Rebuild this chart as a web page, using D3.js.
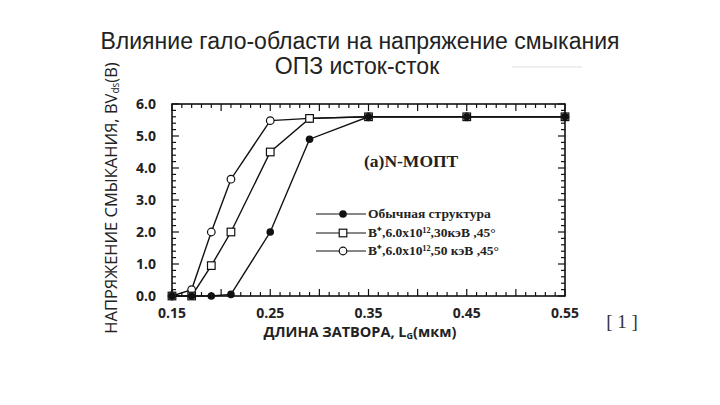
<!DOCTYPE html>
<html><head><meta charset="utf-8">
<script src="https://cdnjs.cloudflare.com/ajax/libs/d3/7.8.5/d3.min.js"></script>
<style>body{margin:0;background:#fff}svg{display:block}</style>
</head><body>
<script>
const titleLines = ["Влияние гало-области на напряжение смыкания", "ОПЗ исток-сток"];
const xValues = [0.15, 0.17, 0.19, 0.21, 0.25, 0.29, 0.35, 0.45, 0.55];
const seriesNames = ["Обычная структура", "B⁺,6.0x10¹²,30кэВ ,45°", "B⁺,6.0x10¹²,50 кэВ ,45°"];
const conventional = [0, 0, 0, 0.05, 2.0, 4.9, 5.6, 5.6, 5.6];
const halo30 = [0, 0, 0.95, 2.0, 4.5, 5.55, 5.6, 5.6, 5.6];
const halo50 = [0, 0.2, 2.0, 3.65, 5.48, 5.55, 5.6, 5.6, 5.6];
const xTickLabels = [0.15, 0.25, 0.35, 0.45, 0.55];
const yTickLabels = [0, 1, 2, 3, 4, 5, 6];

const W = 720, H = 405;
const svg = d3.select("body").append("svg").attr("width", W).attr("height", H);
const x = d3.scaleLinear().domain([0.15, 0.55]).range([172, 565]);
const y = d3.scaleLinear().domain([0, 6]).range([296, 104]);

// Title
svg.selectAll("text.title").data(titleLines).enter().append("text")
  .attr("x", (d, i) => i === 0 ? 360 : 357).attr("y", (d, i) => 49 + i * 25)
  .attr("text-anchor", "middle").attr("font-family", "Liberation Sans, Arial, sans-serif")
  .attr("font-size", 23).attr("fill", "#222").text(d => d);

// faint artifact line
svg.append("line").attr("x1", 512).attr("x2", 582).attr("y1", 67).attr("y2", 67)
  .attr("stroke", "#ddd").attr("stroke-width", 1);

// Frame
svg.append("rect").attr("x", x(0.15)).attr("y", y(6)).attr("width", x(0.55) - x(0.15))
  .attr("height", y(0) - y(6)).attr("fill", "none").attr("stroke", "#111").attr("stroke-width", 1.6);

// ticks inside
const g = svg.append("g").attr("stroke", "#111").attr("stroke-width", 1.2);
d3.range(0, 41).forEach(i => {
  const v = 0.15 + i * 0.01;
  const len = (i % 5 === 0) ? 7 : 4;
  g.append("line").attr("x1", x(v)).attr("x2", x(v)).attr("y1", y(0)).attr("y2", y(0) - len);
  g.append("line").attr("x1", x(v)).attr("x2", x(v)).attr("y1", y(6)).attr("y2", y(6) + len);
});
d3.range(0, 31).forEach(i => {
  const v = i * 0.2;
  const len = (i % 5 === 0) ? 7 : 4;
  g.append("line").attr("x1", x(0.15)).attr("x2", x(0.15) + len).attr("y1", y(v)).attr("y2", y(v));
  g.append("line").attr("x1", x(0.55)).attr("x2", x(0.55) - len).attr("y1", y(v)).attr("y2", y(v));
});

// tick labels
svg.selectAll("text.yt").data(yTickLabels).enter().append("text")
  .attr("x", 156).attr("y", d => y(d) + 5).attr("text-anchor", "end")
  .attr("font-family", "Open Sans, sans-serif").attr("font-weight", "bold").attr("font-size", 14)
  .attr("fill", "#222").text(d => d.toFixed(1));
svg.selectAll("text.xt").data(xTickLabels).enter().append("text")
  .attr("x", d => x(d)).attr("y", 318).attr("text-anchor", "middle")
  .attr("font-family", "Open Sans, sans-serif").attr("font-weight", "bold").attr("font-size", 14)
  .attr("fill", "#222").text(d => d.toFixed(2));

// axis titles
const xl = svg.append("text").attr("x", 360).attr("y", 337).attr("text-anchor", "middle")
  .attr("font-family", "Open Sans, sans-serif").attr("font-weight", "bold").attr("font-size", 14.5).attr("fill", "#222");
xl.append("tspan").text("ДЛИНА ЗАТВОРА, L");
xl.append("tspan").attr("font-size", 9).attr("dy", 2).text("G");
xl.append("tspan").attr("dy", -2).text("(мкм)");

const yl = svg.append("text").attr("transform", "translate(117,198) rotate(-90)").attr("text-anchor", "middle")
  .attr("font-family", "Open Sans, sans-serif").attr("font-size", 16.5).attr("fill", "#222");
yl.append("tspan").text("НАПРЯЖЕНИЕ СМЫКАНИЯ, BV");
yl.append("tspan").attr("font-size", 10).attr("dy", 2).text("ds");
yl.append("tspan").attr("dy", -2).text("(B)");

svg.append("text").attr("x", 622).attr("y", 328).attr("text-anchor", "middle")
  .attr("font-family", "Liberation Serif, serif").attr("font-size", 19).attr("fill", "#333").text("[ 1 ]");

// series
const line = d3.line().x((d, i) => x(xValues[i])).y(d => y(d));
const all = [conventional, halo30, halo50];
all.forEach(s => {
  svg.append("path").datum(s).attr("d", line).attr("fill", "none").attr("stroke", "#111").attr("stroke-width", 1.4);
});
function marker(sel, type, cx, cy) {
  if (type === 0) sel.append("circle").attr("cx", cx).attr("cy", cy).attr("r", 3.8).attr("fill", "#111");
  else if (type === 1) sel.append("rect").attr("x", cx - 3.8).attr("y", cy - 3.8).attr("width", 7.6).attr("height", 7.6)
    .attr("fill", "#fff").attr("stroke", "#111").attr("stroke-width", 1.2);
  else sel.append("circle").attr("cx", cx).attr("cy", cy).attr("r", 3.8).attr("fill", "#fff").attr("stroke", "#111").attr("stroke-width", 1.2);
}
const mg = svg.append("g");
[halo50, halo30, conventional].forEach((s, k) => {
  const type = 2 - k;
  s.forEach((v, i) => marker(mg, type, x(xValues[i]), y(v)));
});

// annotation
svg.append("text").attr("x", 364).attr("y", 167).attr("font-family", "Liberation Serif, serif")
  .attr("font-weight", "bold").attr("font-size", 17.5).attr("fill", "#222").text("(a)N-МОПТ");

// legend
const legY = [214, 233, 251];
const lg = svg.append("g");
legY.forEach((ly, k) => {
  lg.append("line").attr("x1", 316).attr("x2", 366).attr("y1", ly).attr("y2", ly).attr("stroke", "#111").attr("stroke-width", 1.2);
  marker(lg, k, 343, ly);
  lg.append("text").attr("x", 368).attr("y", ly + 4).attr("font-family", "Liberation Serif, serif")
    .attr("font-weight", "bold").attr("font-size", 13.5).attr("fill", "#222").text(seriesNames[k]);
});
</script>
</body></html>
